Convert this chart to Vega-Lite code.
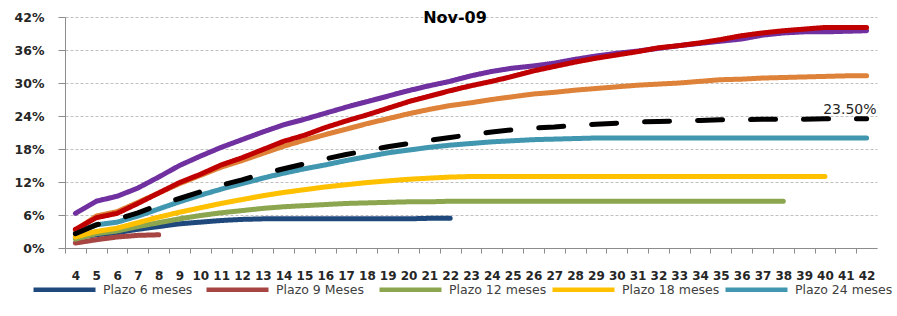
{
"$schema": "https://vega.github.io/schema/vega-lite/v6.json",
"width": 812, "height": 231,
"autosize": {"type": "none"},
"padding": {"left": 65, "top": 17, "right": 20, "bottom": 68},
"background": "white",
"config": {"view": {"stroke": null}, "font": "DejaVu Sans"},
"title": {"text": "Nov-09", "fontSize": 16, "font": "DejaVu Sans", "fontWeight": "bold", "color": "#000000", "anchor": "middle", "frame": "group", "orient": "top", "baseline": "middle", "offset": 0, "dx": -16, "dy": 23},
"data": {"values": [
{"m":4,"s":"Plazo 6 meses","v":0.019},{"m":5,"s":"Plazo 6 meses","v":0.024},{"m":6,"s":"Plazo 6 meses","v":0.028},{"m":7,"s":"Plazo 6 meses","v":0.034},{"m":8,"s":"Plazo 6 meses","v":0.039},{"m":9,"s":"Plazo 6 meses","v":0.044},{"m":10,"s":"Plazo 6 meses","v":0.047},{"m":11,"s":"Plazo 6 meses","v":0.050},{"m":12,"s":"Plazo 6 meses","v":0.052},{"m":13,"s":"Plazo 6 meses","v":0.053},{"m":14,"s":"Plazo 6 meses","v":0.053},{"m":15,"s":"Plazo 6 meses","v":0.053},{"m":16,"s":"Plazo 6 meses","v":0.053},{"m":17,"s":"Plazo 6 meses","v":0.053},{"m":18,"s":"Plazo 6 meses","v":0.053},{"m":19,"s":"Plazo 6 meses","v":0.053},{"m":20,"s":"Plazo 6 meses","v":0.053},{"m":21,"s":"Plazo 6 meses","v":0.054},{"m":22,"s":"Plazo 6 meses","v":0.054},
{"m":4,"s":"Plazo 9 Meses","v":0.009},{"m":5,"s":"Plazo 9 Meses","v":0.015},{"m":6,"s":"Plazo 9 Meses","v":0.020},{"m":7,"s":"Plazo 9 Meses","v":0.023},{"m":8,"s":"Plazo 9 Meses","v":0.024},
{"m":4,"s":"Plazo 12 meses","v":0.016},{"m":5,"s":"Plazo 12 meses","v":0.026},{"m":6,"s":"Plazo 12 meses","v":0.031},{"m":7,"s":"Plazo 12 meses","v":0.039},{"m":8,"s":"Plazo 12 meses","v":0.046},{"m":9,"s":"Plazo 12 meses","v":0.053},{"m":10,"s":"Plazo 12 meses","v":0.059},{"m":11,"s":"Plazo 12 meses","v":0.064},{"m":12,"s":"Plazo 12 meses","v":0.068},{"m":13,"s":"Plazo 12 meses","v":0.072},{"m":14,"s":"Plazo 12 meses","v":0.075},{"m":15,"s":"Plazo 12 meses","v":0.077},{"m":16,"s":"Plazo 12 meses","v":0.079},{"m":17,"s":"Plazo 12 meses","v":0.081},{"m":18,"s":"Plazo 12 meses","v":0.082},{"m":19,"s":"Plazo 12 meses","v":0.083},{"m":20,"s":"Plazo 12 meses","v":0.084},{"m":21,"s":"Plazo 12 meses","v":0.084},{"m":22,"s":"Plazo 12 meses","v":0.085},{"m":23,"s":"Plazo 12 meses","v":0.085},{"m":24,"s":"Plazo 12 meses","v":0.085},{"m":25,"s":"Plazo 12 meses","v":0.085},{"m":26,"s":"Plazo 12 meses","v":0.085},{"m":27,"s":"Plazo 12 meses","v":0.085},{"m":28,"s":"Plazo 12 meses","v":0.085},{"m":29,"s":"Plazo 12 meses","v":0.085},{"m":30,"s":"Plazo 12 meses","v":0.085},{"m":31,"s":"Plazo 12 meses","v":0.085},{"m":32,"s":"Plazo 12 meses","v":0.085},{"m":33,"s":"Plazo 12 meses","v":0.085},{"m":34,"s":"Plazo 12 meses","v":0.085},{"m":35,"s":"Plazo 12 meses","v":0.085},{"m":36,"s":"Plazo 12 meses","v":0.085},{"m":37,"s":"Plazo 12 meses","v":0.085},{"m":38,"s":"Plazo 12 meses","v":0.085},
{"m":4,"s":"Plazo 18 meses","v":0.020},{"m":5,"s":"Plazo 18 meses","v":0.030},{"m":6,"s":"Plazo 18 meses","v":0.036},{"m":7,"s":"Plazo 18 meses","v":0.046},{"m":8,"s":"Plazo 18 meses","v":0.056},{"m":9,"s":"Plazo 18 meses","v":0.065},{"m":10,"s":"Plazo 18 meses","v":0.073},{"m":11,"s":"Plazo 18 meses","v":0.081},{"m":12,"s":"Plazo 18 meses","v":0.088},{"m":13,"s":"Plazo 18 meses","v":0.095},{"m":14,"s":"Plazo 18 meses","v":0.101},{"m":15,"s":"Plazo 18 meses","v":0.106},{"m":16,"s":"Plazo 18 meses","v":0.111},{"m":17,"s":"Plazo 18 meses","v":0.115},{"m":18,"s":"Plazo 18 meses","v":0.119},{"m":19,"s":"Plazo 18 meses","v":0.122},{"m":20,"s":"Plazo 18 meses","v":0.125},{"m":21,"s":"Plazo 18 meses","v":0.127},{"m":22,"s":"Plazo 18 meses","v":0.129},{"m":23,"s":"Plazo 18 meses","v":0.130},{"m":24,"s":"Plazo 18 meses","v":0.130},{"m":25,"s":"Plazo 18 meses","v":0.130},{"m":26,"s":"Plazo 18 meses","v":0.130},{"m":27,"s":"Plazo 18 meses","v":0.130},{"m":28,"s":"Plazo 18 meses","v":0.130},{"m":29,"s":"Plazo 18 meses","v":0.130},{"m":30,"s":"Plazo 18 meses","v":0.130},{"m":31,"s":"Plazo 18 meses","v":0.130},{"m":32,"s":"Plazo 18 meses","v":0.130},{"m":33,"s":"Plazo 18 meses","v":0.130},{"m":34,"s":"Plazo 18 meses","v":0.130},{"m":35,"s":"Plazo 18 meses","v":0.130},{"m":36,"s":"Plazo 18 meses","v":0.130},{"m":37,"s":"Plazo 18 meses","v":0.130},{"m":38,"s":"Plazo 18 meses","v":0.130},{"m":39,"s":"Plazo 18 meses","v":0.130},{"m":40,"s":"Plazo 18 meses","v":0.130},
{"m":4,"s":"Plazo 24 meses","v":0.029},{"m":5,"s":"Plazo 24 meses","v":0.042},{"m":6,"s":"Plazo 24 meses","v":0.047},{"m":7,"s":"Plazo 24 meses","v":0.058},{"m":8,"s":"Plazo 24 meses","v":0.071},{"m":9,"s":"Plazo 24 meses","v":0.084},{"m":10,"s":"Plazo 24 meses","v":0.096},{"m":11,"s":"Plazo 24 meses","v":0.107},{"m":12,"s":"Plazo 24 meses","v":0.117},{"m":13,"s":"Plazo 24 meses","v":0.127},{"m":14,"s":"Plazo 24 meses","v":0.136},{"m":15,"s":"Plazo 24 meses","v":0.144},{"m":16,"s":"Plazo 24 meses","v":0.151},{"m":17,"s":"Plazo 24 meses","v":0.159},{"m":18,"s":"Plazo 24 meses","v":0.166},{"m":19,"s":"Plazo 24 meses","v":0.173},{"m":20,"s":"Plazo 24 meses","v":0.178},{"m":21,"s":"Plazo 24 meses","v":0.183},{"m":22,"s":"Plazo 24 meses","v":0.187},{"m":23,"s":"Plazo 24 meses","v":0.190},{"m":24,"s":"Plazo 24 meses","v":0.193},{"m":25,"s":"Plazo 24 meses","v":0.195},{"m":26,"s":"Plazo 24 meses","v":0.197},{"m":27,"s":"Plazo 24 meses","v":0.198},{"m":28,"s":"Plazo 24 meses","v":0.199},{"m":29,"s":"Plazo 24 meses","v":0.200},{"m":30,"s":"Plazo 24 meses","v":0.200},{"m":31,"s":"Plazo 24 meses","v":0.200},{"m":32,"s":"Plazo 24 meses","v":0.200},{"m":33,"s":"Plazo 24 meses","v":0.200},{"m":34,"s":"Plazo 24 meses","v":0.200},{"m":35,"s":"Plazo 24 meses","v":0.200},{"m":36,"s":"Plazo 24 meses","v":0.200},{"m":37,"s":"Plazo 24 meses","v":0.200},{"m":38,"s":"Plazo 24 meses","v":0.200},{"m":39,"s":"Plazo 24 meses","v":0.200},{"m":40,"s":"Plazo 24 meses","v":0.200},{"m":41,"s":"Plazo 24 meses","v":0.200},{"m":42,"s":"Plazo 24 meses","v":0.200},
{"m":4,"s":"Plazo 36 meses","v":0.032},{"m":5,"s":"Plazo 36 meses","v":0.058},{"m":6,"s":"Plazo 36 meses","v":0.066},{"m":7,"s":"Plazo 36 meses","v":0.083},{"m":8,"s":"Plazo 36 meses","v":0.100},{"m":9,"s":"Plazo 36 meses","v":0.117},{"m":10,"s":"Plazo 36 meses","v":0.132},{"m":11,"s":"Plazo 36 meses","v":0.147},{"m":12,"s":"Plazo 36 meses","v":0.159},{"m":13,"s":"Plazo 36 meses","v":0.172},{"m":14,"s":"Plazo 36 meses","v":0.185},{"m":15,"s":"Plazo 36 meses","v":0.196},{"m":16,"s":"Plazo 36 meses","v":0.206},{"m":17,"s":"Plazo 36 meses","v":0.216},{"m":18,"s":"Plazo 36 meses","v":0.226},{"m":19,"s":"Plazo 36 meses","v":0.235},{"m":20,"s":"Plazo 36 meses","v":0.244},{"m":21,"s":"Plazo 36 meses","v":0.252},{"m":22,"s":"Plazo 36 meses","v":0.259},{"m":23,"s":"Plazo 36 meses","v":0.264},{"m":24,"s":"Plazo 36 meses","v":0.270},{"m":25,"s":"Plazo 36 meses","v":0.275},{"m":26,"s":"Plazo 36 meses","v":0.280},{"m":27,"s":"Plazo 36 meses","v":0.283},{"m":28,"s":"Plazo 36 meses","v":0.287},{"m":29,"s":"Plazo 36 meses","v":0.290},{"m":30,"s":"Plazo 36 meses","v":0.293},{"m":31,"s":"Plazo 36 meses","v":0.296},{"m":32,"s":"Plazo 36 meses","v":0.298},{"m":33,"s":"Plazo 36 meses","v":0.300},{"m":34,"s":"Plazo 36 meses","v":0.303},{"m":35,"s":"Plazo 36 meses","v":0.306},{"m":36,"s":"Plazo 36 meses","v":0.307},{"m":37,"s":"Plazo 36 meses","v":0.309},{"m":38,"s":"Plazo 36 meses","v":0.310},{"m":39,"s":"Plazo 36 meses","v":0.311},{"m":40,"s":"Plazo 36 meses","v":0.312},{"m":41,"s":"Plazo 36 meses","v":0.313},{"m":42,"s":"Plazo 36 meses","v":0.313},
{"m":4,"s":"Plazo 48 meses","v":0.063},{"m":5,"s":"Plazo 48 meses","v":0.085},{"m":6,"s":"Plazo 48 meses","v":0.094},{"m":7,"s":"Plazo 48 meses","v":0.109},{"m":8,"s":"Plazo 48 meses","v":0.129},{"m":9,"s":"Plazo 48 meses","v":0.150},{"m":10,"s":"Plazo 48 meses","v":0.167},{"m":11,"s":"Plazo 48 meses","v":0.183},{"m":12,"s":"Plazo 48 meses","v":0.197},{"m":13,"s":"Plazo 48 meses","v":0.211},{"m":14,"s":"Plazo 48 meses","v":0.224},{"m":15,"s":"Plazo 48 meses","v":0.234},{"m":16,"s":"Plazo 48 meses","v":0.245},{"m":17,"s":"Plazo 48 meses","v":0.256},{"m":18,"s":"Plazo 48 meses","v":0.266},{"m":19,"s":"Plazo 48 meses","v":0.276},{"m":20,"s":"Plazo 48 meses","v":0.286},{"m":21,"s":"Plazo 48 meses","v":0.295},{"m":22,"s":"Plazo 48 meses","v":0.303},{"m":23,"s":"Plazo 48 meses","v":0.313},{"m":24,"s":"Plazo 48 meses","v":0.321},{"m":25,"s":"Plazo 48 meses","v":0.327},{"m":26,"s":"Plazo 48 meses","v":0.331},{"m":27,"s":"Plazo 48 meses","v":0.336},{"m":28,"s":"Plazo 48 meses","v":0.343},{"m":29,"s":"Plazo 48 meses","v":0.349},{"m":30,"s":"Plazo 48 meses","v":0.354},{"m":31,"s":"Plazo 48 meses","v":0.358},{"m":32,"s":"Plazo 48 meses","v":0.363},{"m":33,"s":"Plazo 48 meses","v":0.368},{"m":34,"s":"Plazo 48 meses","v":0.372},{"m":35,"s":"Plazo 48 meses","v":0.376},{"m":36,"s":"Plazo 48 meses","v":0.380},{"m":37,"s":"Plazo 48 meses","v":0.387},{"m":38,"s":"Plazo 48 meses","v":0.391},{"m":39,"s":"Plazo 48 meses","v":0.393},{"m":40,"s":"Plazo 48 meses","v":0.393},{"m":41,"s":"Plazo 48 meses","v":0.394},{"m":42,"s":"Plazo 48 meses","v":0.395},
{"m":4,"s":"Plazo 60 meses","v":0.034},{"m":5,"s":"Plazo 60 meses","v":0.055},{"m":6,"s":"Plazo 60 meses","v":0.063},{"m":7,"s":"Plazo 60 meses","v":0.081},{"m":8,"s":"Plazo 60 meses","v":0.100},{"m":9,"s":"Plazo 60 meses","v":0.119},{"m":10,"s":"Plazo 60 meses","v":0.134},{"m":11,"s":"Plazo 60 meses","v":0.151},{"m":12,"s":"Plazo 60 meses","v":0.164},{"m":13,"s":"Plazo 60 meses","v":0.179},{"m":14,"s":"Plazo 60 meses","v":0.194},{"m":15,"s":"Plazo 60 meses","v":0.205},{"m":16,"s":"Plazo 60 meses","v":0.219},{"m":17,"s":"Plazo 60 meses","v":0.231},{"m":18,"s":"Plazo 60 meses","v":0.242},{"m":19,"s":"Plazo 60 meses","v":0.254},{"m":20,"s":"Plazo 60 meses","v":0.266},{"m":21,"s":"Plazo 60 meses","v":0.276},{"m":22,"s":"Plazo 60 meses","v":0.286},{"m":23,"s":"Plazo 60 meses","v":0.295},{"m":24,"s":"Plazo 60 meses","v":0.303},{"m":25,"s":"Plazo 60 meses","v":0.312},{"m":26,"s":"Plazo 60 meses","v":0.322},{"m":27,"s":"Plazo 60 meses","v":0.330},{"m":28,"s":"Plazo 60 meses","v":0.338},{"m":29,"s":"Plazo 60 meses","v":0.345},{"m":30,"s":"Plazo 60 meses","v":0.351},{"m":31,"s":"Plazo 60 meses","v":0.357},{"m":32,"s":"Plazo 60 meses","v":0.364},{"m":33,"s":"Plazo 60 meses","v":0.368},{"m":34,"s":"Plazo 60 meses","v":0.373},{"m":35,"s":"Plazo 60 meses","v":0.379},{"m":36,"s":"Plazo 60 meses","v":0.386},{"m":37,"s":"Plazo 60 meses","v":0.391},{"m":38,"s":"Plazo 60 meses","v":0.395},{"m":39,"s":"Plazo 60 meses","v":0.398},{"m":40,"s":"Plazo 60 meses","v":0.401},{"m":41,"s":"Plazo 60 meses","v":0.401},{"m":42,"s":"Plazo 60 meses","v":0.401},
{"m":4,"s":"Total","v":0.026},{"m":5,"s":"Total","v":0.042},{"m":6,"s":"Total","v":0.052},{"m":7,"s":"Total","v":0.064},{"m":8,"s":"Total","v":0.078},{"m":9,"s":"Total","v":0.090},{"m":10,"s":"Total","v":0.102},{"m":11,"s":"Total","v":0.114},{"m":12,"s":"Total","v":0.124},{"m":13,"s":"Total","v":0.135},{"m":14,"s":"Total","v":0.144},{"m":15,"s":"Total","v":0.153},{"m":16,"s":"Total","v":0.162},{"m":17,"s":"Total","v":0.170},{"m":18,"s":"Total","v":0.177},{"m":19,"s":"Total","v":0.184},{"m":20,"s":"Total","v":0.190},{"m":21,"s":"Total","v":0.196},{"m":22,"s":"Total","v":0.201},{"m":23,"s":"Total","v":0.206},{"m":24,"s":"Total","v":0.211},{"m":25,"s":"Total","v":0.215},{"m":26,"s":"Total","v":0.218},{"m":27,"s":"Total","v":0.220},{"m":28,"s":"Total","v":0.223},{"m":29,"s":"Total","v":0.225},{"m":30,"s":"Total","v":0.227},{"m":31,"s":"Total","v":0.229},{"m":32,"s":"Total","v":0.230},{"m":33,"s":"Total","v":0.231},{"m":34,"s":"Total","v":0.232},{"m":35,"s":"Total","v":0.233},{"m":36,"s":"Total","v":0.233},{"m":37,"s":"Total","v":0.234},{"m":38,"s":"Total","v":0.234},{"m":39,"s":"Total","v":0.234},{"m":40,"s":"Total","v":0.235},{"m":41,"s":"Total","v":0.235},{"m":42,"s":"Total","v":0.235}
]},
"layer": [
{
"mark": {"type": "line", "strokeWidth": 5, "strokeCap": "round", "strokeJoin": "round"},
"encoding": {
"x": {"field": "m", "type": "quantitative", "scale": {"domain": [3.5, 42.5], "nice": false, "zero": false},
 "axis": {"values": [4,5,6,7,8,9,10,11,12,13,14,15,16,17,18,19,20,21,22,23,24,25,26,27,28,29,30,31,32,33,34,35,36,37,38,39,40,41,42], "format": "d", "title": null, "grid": false, "tickOffset": -10.41, "labelOffset": 10.41, "labelOverlap": false, "labelFlush": false, "labelBound": false, "labelFont": "DejaVu Sans", "labelFontSize": 12, "labelFontWeight": "bold", "labelColor": "#262626", "labelPadding": 17.5, "tickSize": 5, "tickColor": "#8c8c8c", "domainColor": "#8c8c8c"}},
"y": {"field": "v", "type": "quantitative", "scale": {"domain": [0, 0.42], "nice": false, "zero": true},
 "axis": {"values": [0, 0.06, 0.12, 0.18, 0.24, 0.3, 0.36, 0.42], "format": ".0%", "title": null, "grid": true, "gridDash": [3, 2], "gridColor": "#bfbfbf", "labelOverlap": false, "labelFlush": false, "labelBound": false, "tickSize": 7, "tickColor": "#8c8c8c", "domainColor": "#8c8c8c", "labelFont": "DejaVu Sans", "labelFontSize": 12.5, "labelFontWeight": "bold", "labelColor": "#262626", "labelPadding": 14}},
"color": {"field": "s", "type": "nominal",
 "scale": {"domain": ["Plazo 6 meses", "Plazo 9 Meses", "Plazo 12 meses", "Plazo 18 meses", "Plazo 24 meses", "Plazo 36 meses", "Plazo 48 meses", "Plazo 60 meses", "Total"],
  "range": ["#1F497D", "#A64541", "#8BA64E", "#FFC000", "#4197B0", "#DE8239", "#7030A0", "#C00000", "#000000"]},
 "legend": {"orient": "none", "legendX": -34, "legendY": 239, "direction": "horizontal", "columns": 5, "symbolType": "stroke", "symbolSize": 3844, "symbolStrokeWidth": 4.5, "labelFont": "DejaVu Sans", "labelFontSize": 12.5, "labelColor": "#404040", "labelOffset": 5, "columnPadding": -4, "rowPadding": 0, "padding": 0, "title": null, "labelLimit": 250}},
"strokeDash": {"field": "s", "type": "nominal",
 "scale": {"domain": ["Plazo 6 meses", "Plazo 9 Meses", "Plazo 12 meses", "Plazo 18 meses", "Plazo 24 meses", "Plazo 36 meses", "Plazo 48 meses", "Plazo 60 meses", "Total"],
  "range": [[1, 0], [1, 0], [1, 0], [1, 0], [1, 0], [1, 0], [1, 0], [1, 0], [25, 28]]},
 "legend": {"orient": "none", "legendX": -34, "legendY": 239, "direction": "horizontal", "columns": 5, "symbolType": "stroke", "symbolSize": 3844, "symbolStrokeWidth": 4.5, "labelFont": "DejaVu Sans", "labelFontSize": 12.5, "labelColor": "#404040", "labelOffset": 5, "columnPadding": -4, "rowPadding": 0, "padding": 0, "title": null, "labelLimit": 250}}
}
},
{
"transform": [{"filter": "datum.s === 'Total' && datum.m === 42"}],
"mark": {"type": "text", "align": "right", "baseline": "middle", "dx": 10, "dy": -9, "fontSize": 14, "font": "DejaVu Sans", "color": "#262626"},
"encoding": {
"x": {"field": "m", "type": "quantitative", "scale": {"domain": [3.5, 42.5], "nice": false, "zero": false},
 "axis": {"values": [4,5,6,7,8,9,10,11,12,13,14,15,16,17,18,19,20,21,22,23,24,25,26,27,28,29,30,31,32,33,34,35,36,37,38,39,40,41,42], "format": "d", "title": null, "grid": false, "tickOffset": -10.41, "labelOffset": 10.41, "labelOverlap": false, "labelFlush": false, "labelBound": false, "labelFont": "DejaVu Sans", "labelFontSize": 12, "labelFontWeight": "bold", "labelColor": "#262626", "labelPadding": 17.5, "tickSize": 5, "tickColor": "#8c8c8c", "domainColor": "#8c8c8c"}},
"y": {"field": "v", "type": "quantitative", "scale": {"domain": [0, 0.42], "nice": false, "zero": true},
 "axis": {"values": [0, 0.06, 0.12, 0.18, 0.24, 0.3, 0.36, 0.42], "format": ".0%", "title": null, "grid": true, "gridDash": [3, 2], "gridColor": "#bfbfbf", "labelOverlap": false, "labelFlush": false, "labelBound": false, "tickSize": 7, "tickColor": "#8c8c8c", "domainColor": "#8c8c8c", "labelFont": "DejaVu Sans", "labelFontSize": 12.5, "labelFontWeight": "bold", "labelColor": "#262626", "labelPadding": 14}},
"text": {"field": "v", "type": "quantitative", "format": ".2%"}
}
}
]
}
